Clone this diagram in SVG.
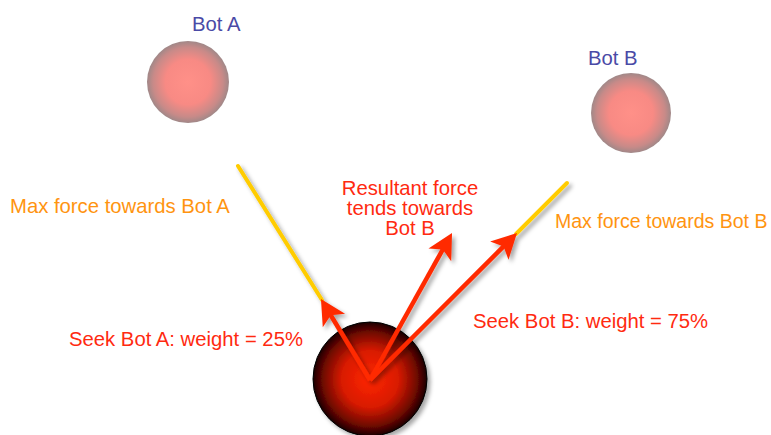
<svg xmlns="http://www.w3.org/2000/svg" width="771" height="435" viewBox="0 0 771 435">
<style>
text{font-family:"Liberation Sans",Arial,sans-serif;font-size:20.3px}
.bot{fill:#4a4aa6}
.max{fill:#ff9410}
.red{fill:#ff2a10}
.yel{stroke:#ffcc00;stroke-width:4;stroke-linecap:round;fill:none}
.arr{stroke:#ff2a00;stroke-width:4.5;fill:none;marker-end:url(#ah)}
</style>
<defs>
<filter id="sh" x="-30%" y="-30%" width="160%" height="160%">
<feDropShadow dx="3" dy="3" stdDeviation="2" flood-color="#000" flood-opacity="0.35"/>
</filter>
<radialGradient id="pink" cx="0.5" cy="0.5" r="0.5">
<stop offset="0" stop-color="#ff9088"/>
<stop offset="0.55" stop-color="#f88a84"/>
<stop offset="0.85" stop-color="#c88a88"/>
<stop offset="1" stop-color="#a08888"/>
</radialGradient>
<radialGradient id="ball" cx="0.5" cy="0.5" r="0.5">
<stop offset="0" stop-color="#ff2600"/>
<stop offset="0.5" stop-color="#d81a00"/>
<stop offset="0.82" stop-color="#700800"/>
<stop offset="1" stop-color="#1a0000"/>
</radialGradient>
<marker id="ah" markerUnits="userSpaceOnUse" markerWidth="30" markerHeight="30" viewBox="-28 -15 30 30" refX="-14" refY="0" orient="auto">
<path d="M0,0 L-25,-13 L-19,0 L-25,13 Z" fill="#ff2a00"/>
</marker>
</defs>
<g id="botA">
<circle cx="188" cy="82" r="41" fill="url(#pink)"/>
<text class="bot" x="192" y="31">Bot A</text>
</g>
<g id="botB">
<circle cx="631" cy="113" r="40" fill="url(#pink)"/>
<text class="bot" x="588" y="65">Bot B</text>
</g>
<g id="seeker">
<circle cx="370" cy="379" r="57" fill="url(#ball)" stroke="#000" stroke-width="1" filter="url(#sh)"/>
</g>
<g id="connectors" filter="url(#sh)">
<line class="yel" x1="238" y1="166" x2="322" y2="300"/>
<line class="yel" x1="567" y1="183" x2="516" y2="234"/>
<line class="arr" x1="370" y1="380" x2="328.2" y2="311"/>
<line class="arr" x1="370" y1="380" x2="507.1" y2="242.9"/>
<line class="arr" x1="370" y1="380" x2="445.2" y2="245.2"/>
</g>
<g id="labels">
<text class="max" x="10" y="213">Max force towards Bot A</text>
<text class="max" x="555" y="228" style="font-size:19.5px">Max force towards Bot B</text>
<text class="red" text-anchor="middle"><tspan x="410" y="195">Resultant force</tspan><tspan x="410" y="215">tends towards</tspan><tspan x="410" y="235">Bot B</tspan></text>
<text class="red" x="69" y="346">Seek Bot A: weight = 25%</text>
<text class="red" x="473" y="328">Seek Bot B: weight = 75%</text>
</g>
</svg>
